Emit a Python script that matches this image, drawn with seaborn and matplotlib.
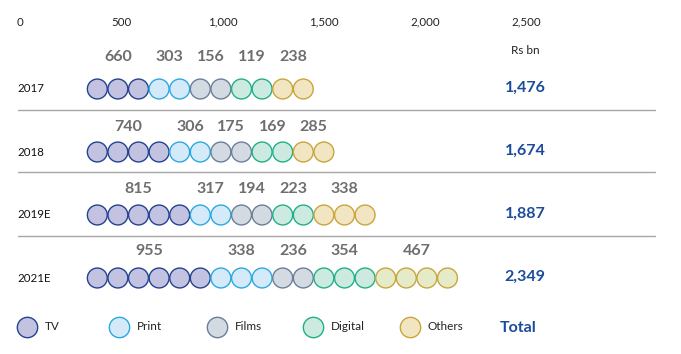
import matplotlib
matplotlib.use("Agg")
import matplotlib.pyplot as plt
import seaborn as sns
import pandas as pd
import numpy as np

# ---- data ----
years = ["2017", "2018", "2019E", "2021E"]
segments = ["TV", "Print", "Films", "Digital", "Others"]
tv = [660, 740, 815, 955]
print_ = [303, 306, 317, 338]
films = [156, 175, 194, 236]
digital = [119, 169, 223, 354]
others = [238, 285, 338, 467]
totals = ["1,476", "1,674", "1,887", "2,349"]
# number of circles drawn per segment in each year
tv_n = [3, 4, 5, 6]
print_n = [2, 2, 2, 3]
films_n = [2, 2, 2, 2]
digital_n = [2, 2, 2, 3]
others_n = [2, 2, 3, 4]
tick_values = [0, 500, 1000, 1500, 2000, 2500]
tick_labels = ["0", "500", "1,000", "1,500", "2,000", "2,500"]

# ---- styles ----
face = {"TV": "#c3c3e1", "Print": "#d4eaf8", "Films": "#d3dae2",
        "Digital": "#cdeae1", "Others": "#f2e5c2"}
edge = {"TV": "#23428f", "Print": "#2ba9e1", "Films": "#6b7f98",
        "Digital": "#20b089", "Others": "#c9a53c"}
others_face_2021 = "#e5ebc9"
blue = "#1b4c9b"
grey_txt = "#6e6e6e"
FONT = "Lato"

W, H, DPI = 681, 354, 100
fig = plt.figure(figsize=(W / DPI, H / DPI), dpi=DPI)
sns.set_style("white")
plt.rcParams["font.family"] = [FONT, "DejaVu Sans"]
ax = fig.add_axes([0, 0, 1, 1])

# linear value scale: pixel = x0 + v * k
x0, k = 20.0, 0.2026
ax.set_xlim((0 - x0) / k, (W - x0) / k)
ax.set_ylim(H, 0)
ax.axis("off")

def px2v(px):
    return (px - x0) / k

# tick labels on top
for v, lab in zip(tick_values, tick_labels):
    ax.text(v, 22, lab, ha="center", va="center", fontsize=8.3, color="#222222")
ax.text(px2v(525), 51, "Rs bn", ha="center", va="center", fontsize=8.5, color="#222222")

values = {"TV": tv, "Print": print_, "Films": films, "Digital": digital, "Others": others}
counts = {"TV": tv_n, "Print": print_n, "Films": films_n, "Digital": digital_n, "Others": others_n}

row_y = [89, 152, 215, 278]
label_y = [57, 127, 189, 251]
pitch = 20.6
start_px = 87

rows = []
for r, yr in enumerate(years):
    idx = 0
    for seg in segments:
        n = counts[seg][r]
        centers = []
        for j in range(n):
            cpx = start_px + pitch * (idx + 0.5)
            fc = face[seg]
            if seg == "Others" and yr == "2021E":
                fc = others_face_2021
            rows.append({"x": px2v(cpx), "y": row_y[r], "seg": seg, "fc": fc})
            centers.append(cpx)
            idx += 1
        ax.text(px2v(np.mean(centers)), label_y[r], f"{values[seg][r]}",
                ha="center", va="center", fontsize=11.5, fontweight="bold", color=grey_txt)
    ax.text(px2v(17), row_y[r], yr, ha="left", va="center", fontsize=8.3, color="#111111")
    ax.text(px2v(525), row_y[r] - 1, totals[r], ha="center", va="center",
            fontsize=11.5, fontweight="bold", color=blue)

df = pd.DataFrame(rows)
for seg in segments:
    sub = df[df["seg"] == seg]
    sns.scatterplot(data=sub, x="x", y="y", ax=ax, marker="o", s=205,
                    color=sub["fc"].tolist(), edgecolor=edge[seg], linewidth=1.0,
                    legend=False, zorder=3)

# separators
for ysep in [110, 172, 236]:
    ax.plot([px2v(18), px2v(655)], [ysep, ysep], color="#a6a6a6", lw=1.0, zorder=1)

# legend
leg_x = [27, 119, 217, 313, 410]
for i, seg in enumerate(segments):
    ax.scatter(px2v(leg_x[i]), 327, s=215, marker="o",
               facecolor=face[seg], edgecolor=edge[seg], linewidth=1.0, zorder=3)
    ax.text(px2v(leg_x[i] + 18), 327, seg, ha="left", va="center",
            fontsize=8.5, color="#222222")
ax.text(px2v(500), 328, "Total", ha="left", va="center", fontsize=11.5,
        fontweight="bold", color=blue)

fig.savefig("out.png", dpi=DPI)
